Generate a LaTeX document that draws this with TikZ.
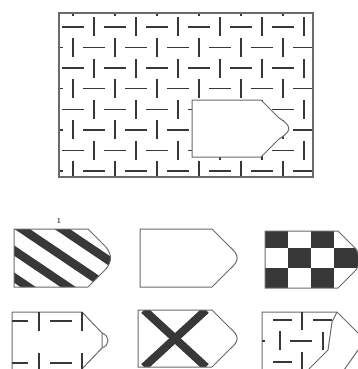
\documentclass[tikz,border=0pt]{standalone}
\definecolor{ink}{HTML}{383838}
\definecolor{edgec}{HTML}{6A6A6A}
\tikzset{
  dsh/.style={draw=ink, line width=1.4pt},
  outl/.style={draw=edgec, line width=1pt},
}
% #1 options, #2 x0, #3 x1, #4 top, #5 bottom, #6 bulge
\newcommand\bul[6]{\path[#1] (#2,#4) -- (#3,#4) -- ++(18,18) .. controls +(#6,8) and +(#6,-8) .. ++(0,{#5-#4-36}) -- (#3,#5) -- (#2,#5) -- cycle;}
\begin{document}
\begin{tikzpicture}[x=1pt,y=-1pt]
\useasboundingbox (0,0) rectangle (358,369);
% ---------- main panel ----------
\begin{scope}
  \clip (59,13) rectangle (313,177);
  \foreach \i in {-1,...,12} {
    \foreach \j in {-1,...,8} {
      \pgfmathsetmacro\xx{73+21*\i}
      \pgfmathsetmacro\yy{27+20.57*\j}
      \pgfmathtruncatemacro\pp{mod(\i+\j+20,2)}
      \ifnum\pp=0
        \draw[dsh] (\xx-11,\yy) -- (\xx+11,\yy);
      \else
        \draw[dsh] (\xx,\yy-9.5) -- (\xx,\yy+9.5);
      \fi
    }
  }
\end{scope}
\draw[outl, line width=1.2pt] (59,13) rectangle (313,177);
\bul{outl,fill=white}{192}{261}{100}{157}{13}
% ---------- option 1: stripes ----------
\node[inner sep=0pt, text=ink, font=\fontsize{7.5}{7.5}\selectfont\bfseries] (lab1) at (59,221) {1};
\begin{scope}
  \bul{clip}{14}{88}{229}{287}{6}
  \foreach \x in {-98,-58,-18,22,62,102}
    \draw[ink, line width=8.5pt] (\x-60,188.5) -- (\x+150,330);
\end{scope}
\bul{outl}{14}{88}{229}{287}{6}
% ---------- option 2: blank ----------
\bul{outl}{140}{212}{229}{287}{9.5}
% ---------- option 3: checker ----------
\begin{scope}
  \bul{clip}{265}{338}{231}{288}{5}
  \fill[ink] (265,231) rectangle (288,248);
  \fill[ink] (311,231) rectangle (334,248);
  \fill[ink] (288,248) rectangle (311,268);
  \fill[ink] (334,248) rectangle (362,268);
  \fill[ink] (265,268) rectangle (288,288);
  \fill[ink] (311,268) rectangle (334,288);
\end{scope}
\bul{outl}{265}{338}{231}{288}{5}
% ---------- option 4 ----------
\draw[outl] (12,370) -- (12,312) -- (82,312) -- (102,333) -- (102,348) -- (81,370);
\draw[outl] (102,333) .. controls (110,336) and (110,345) .. (102,348);
\draw[dsh] (12,321)--(28,321) (39,312)--(39,331) (50,321)--(72,321) (82,312)--(82,331)
           (12,363)--(28,363) (39,353)--(39,370) (50,363)--(72,363) (82,353)--(82,370);
% ---------- option 5: X ----------
\begin{scope}
  \bul{clip}{138}{212}{310}{367}{9.5}
  \draw[ink, line width=8pt] (144,310) -- (206,367);
  \draw[ink, line width=8pt] (144,367) -- (206,310);
\end{scope}
\bul{outl}{138}{212}{310}{367}{9.5}
% ---------- option 6 ----------
\draw[outl] (262,370) -- (262,312) -- (337,312) -- (363,338);
\draw[outl] (363,343) -- (344,370);
\draw[outl] (337,312) -- (332,322) -- (328,350) -- (308,370);
\draw[dsh] (273,320)--(292,320) (302,312)--(302,330) (313,320)--(332,320)
           (262,341)--(265,341) (280,331)--(280,350) (290,341)--(312,341) (323,332)--(323,350)
           (273,362)--(292,362) (302,352)--(302,370);
\end{tikzpicture}
\end{document}
